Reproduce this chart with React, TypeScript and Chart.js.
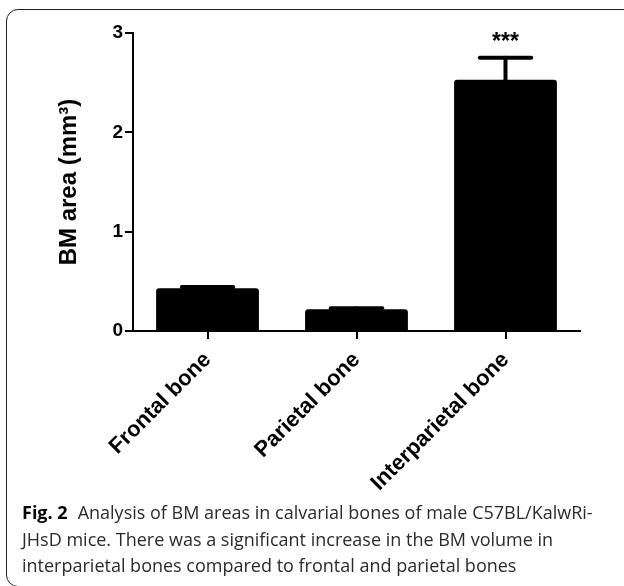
import React, { useEffect, useRef } from "react";
import { Chart, registerables } from "chart.js";

Chart.register(...registerables);

const categories = ["Frontal bone", "Parietal bone", "Interparietal bone"];
const meanValues = [0.43, 0.22, 2.53];
const semValues = [0.012, 0.008, 0.22];
const significance = ["", "", "***"];
const yMin = 0;
const yMax = 3;
const yStep = 1;
const yAxisTitle = "BM area (mm³)";
const captionLabel = "Fig. 2";
const captionLines = [
  "Analysis of BM areas in calvarial bones of male C57BL/KalwRi-",
  "JHsD mice. There was a significant increase in the BM volume in",
  "interparietal bones compared to frontal and parietal bones",
];

const FONT = "'Liberation Sans', Arial, sans-serif";
const CANVAS_H = 510;

const errorBarPlugin = {
  id: "errorBars",
  afterDatasetsDraw(chart: any) {
    const ctx = chart.ctx;
    const meta = chart.getDatasetMeta(0);
    const yScale = chart.scales.y;
    ctx.save();
    ctx.strokeStyle = "#000";
    ctx.fillStyle = "#000";
    ctx.lineWidth = 4;
    ctx.lineCap = "round";
    meta.data.forEach((bar: any, i: number) => {
      const x = bar.x;
      const yMean = yScale.getPixelForValue(meanValues[i]);
      const yTop = yScale.getPixelForValue(meanValues[i] + semValues[i]);
      const half = bar.width / 4;
      ctx.beginPath();
      ctx.moveTo(x, yMean);
      ctx.lineTo(x, yTop);
      ctx.stroke();
      ctx.beginPath();
      ctx.moveTo(x - half, yTop);
      ctx.lineTo(x + half, yTop);
      ctx.stroke();
      if (significance[i]) {
        ctx.font = `bold 23px ${FONT}`;
        ctx.textAlign = "center";
        ctx.textBaseline = "alphabetic";
        ctx.fillText(significance[i], x, yTop - 9);
      }
    });
    ctx.restore();
  },
};

function BarChart() {
  const ref = useRef<HTMLCanvasElement | null>(null);
  useEffect(() => {
    if (!ref.current) return;
    const chart = new Chart(ref.current, {
      type: "bar",
      data: {
        labels: categories,
        datasets: [
          {
            data: meanValues,
            backgroundColor: "#000",
            borderWidth: 0,
            borderRadius: 3,
            barPercentage: 0.69,
            categoryPercentage: 1,
          },
        ],
      },
      options: {
        responsive: false,
        animation: false,
        layout: { padding: { left: 0, top: 33, right: 44, bottom: 0 } },
        plugins: { legend: { display: false }, tooltip: { enabled: false } },
        scales: {
          x: {
            offset: true,
            grid: {
              offset: false,
              drawOnChartArea: false,
              drawTicks: true,
              tickLength: 8,
              color: "#000",
              lineWidth: 2,
            },
            border: { display: true, color: "#000", width: 2 },
            ticks: {
              color: "#000",
              font: { family: FONT, size: 22, weight: "bold" },
              minRotation: 45,
              maxRotation: 45,
              padding: 8,
            },
            afterFit: (scale: any) => {
              scale.height = CANVAS_H - 331;
            },
          },
          y: {
            min: yMin,
            max: yMax,
            grid: {
              drawOnChartArea: false,
              drawTicks: true,
              tickLength: 8,
              color: "#000",
              lineWidth: 2,
            },
            border: { display: true, color: "#000", width: 2 },
            ticks: {
              stepSize: yStep,
              color: "#000",
              font: { family: FONT, size: 19, weight: "bold" },
              padding: 2,
            },
            title: {
              display: true,
              text: yAxisTitle,
              color: "#000",
              font: { family: FONT, size: 24, weight: "bold" },
              padding: { top: 55, bottom: 0 },
            },
            afterFit: (scale: any) => {
              scale.width = 133;
            },
          },
        },
      },
      plugins: [errorBarPlugin],
    });
    return () => chart.destroy();
  }, []);
  return (
    <canvas
      ref={ref}
      width={624}
      height={CANVAS_H}
      style={{ position: "absolute", left: 0, top: 0, width: 624, height: CANVAS_H }}
    />
  );
}

export default function App() {
  return (
    <div
      style={{
        position: "absolute",
        left: 0,
        top: 0,
        width: 624,
        height: 586,
        overflow: "hidden",
        background: "#fff",
      }}
    >
      <div
        style={{
          position: "absolute",
          left: 6,
          top: 9,
          width: 640,
          height: 576,
          border: "1px solid #231f20",
          borderRadius: 12,
        }}
      />
      <BarChart />
      <div
        style={{
          position: "absolute",
          left: 22,
          top: 499,
          fontFamily: "'Open Sans', sans-serif",
          fontSize: 18,
          lineHeight: "26.5px",
          color: "#2b2b2b",
          whiteSpace: "nowrap",
        }}
      >
        {captionLines.map((line, i) => (
          <div key={i}>
            {i === 0 && (
              <span style={{ fontWeight: "bold", color: "#000", marginRight: 10 }}>
                {captionLabel}
              </span>
            )}
            {line}
          </div>
        ))}
      </div>
    </div>
  );
}
